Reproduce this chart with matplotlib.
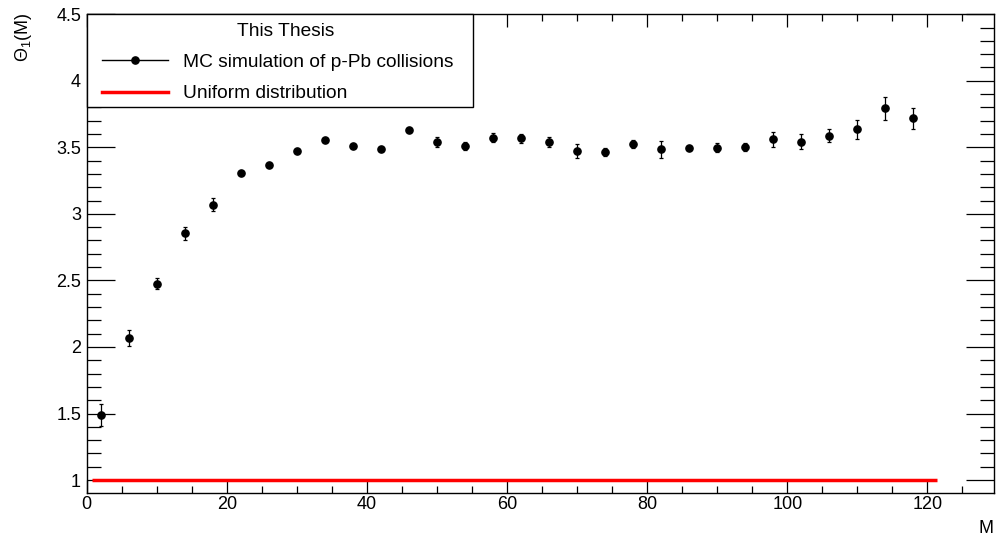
import matplotlib
matplotlib.use('Agg')
import matplotlib.pyplot as plt
from matplotlib.lines import Line2D
from matplotlib.patches import Rectangle
from matplotlib.ticker import MultipleLocator, FuncFormatter

# data
multiplicity = [2, 6, 10, 14, 18, 22, 26, 30, 34, 38, 42, 46, 50, 54, 58,
                62, 66, 70, 74, 78, 82, 86, 90, 94, 98, 102, 106, 110, 114, 118]
theta1 = [1.49, 2.065, 2.475, 2.855, 3.07, 3.31, 3.365, 3.472, 3.552, 3.51,
          3.49, 3.632, 3.54, 3.512, 3.573, 3.567, 3.54, 3.472, 3.465, 3.525,
          3.485, 3.495, 3.498, 3.503, 3.56, 3.543, 3.588, 3.635, 3.792, 3.718]
theta1_err = [0.083, 0.059, 0.041, 0.05, 0.046, 0.01, 0.01, 0.01, 0.01, 0.01,
              0.01, 0.01, 0.035, 0.03, 0.036, 0.036, 0.035, 0.055, 0.03, 0.03,
              0.066, 0.01, 0.035, 0.03, 0.055, 0.056, 0.05, 0.07, 0.085, 0.077]
uniform_m = [0.7, 121.3]
uniform_theta = [1.0, 1.0]

plt.rcParams['font.family'] = ['Liberation Sans', 'DejaVu Sans']
plt.rcParams['mathtext.fontset'] = 'custom'
plt.rcParams['mathtext.rm'] = 'Liberation Sans'
plt.rcParams['mathtext.it'] = 'Liberation Sans:italic'

fig = plt.figure(figsize=(10, 5.37), dpi=100)
ax = fig.add_axes([0.0867, 0.0825, 0.9073, 0.891])

ax.plot(uniform_m, uniform_theta, color='#ff0000', lw=2.5, solid_capstyle='butt', zorder=2)
ax.errorbar(multiplicity, theta1, yerr=theta1_err, fmt='o', color='black',
            markersize=5.2, elinewidth=0.9, capsize=1.6, capthick=0.9, zorder=3)

ax.set_xlim(0, 129.5)
ax.set_ylim(0.905, 4.5)

ax.xaxis.set_major_locator(MultipleLocator(20))
ax.xaxis.set_minor_locator(MultipleLocator(5))
ax.yaxis.set_major_locator(MultipleLocator(0.5))
ax.yaxis.set_minor_locator(MultipleLocator(0.1))
ax.yaxis.set_major_formatter(FuncFormatter(lambda v, p: '%g' % v))

ax.tick_params(axis='both', which='both', direction='in', top=True, right=True,
               labelsize=13, width=0.9, color='black')
ax.tick_params(axis='x', which='major', length=9.6, pad=2.6)
ax.tick_params(axis='x', which='minor', length=4.8)
ax.tick_params(axis='y', which='major', length=19.9, pad=4.1)
ax.tick_params(axis='y', which='minor', length=10)
for s in ax.spines.values():
    s.set_linewidth(1.0)

ax.set_xlabel('M', fontsize=13, loc='right')
ax.xaxis.set_label_coords(1.0, -0.058)
ax.set_ylabel(r'$\Theta_{1}$(M)', fontsize=13, loc='top')
ax.yaxis.set_label_coords(-0.058, 1.003)

# legend box drawn separately, legend content placed inside it
ax.add_patch(Rectangle((0, 0.8056), 0.4258, 0.1944, transform=ax.transAxes,
                       facecolor='white', edgecolor='black', lw=1.0,
                       zorder=4, clip_on=False))
handles = [Line2D([], [], color='black', lw=1, marker='o', markersize=5.2),
           Line2D([], [], color='#ff0000', lw=2.5)]
labels = ['MC simulation of p-Pb collisions', 'Uniform distribution']
leg = ax.legend(handles, labels, title='This Thesis', loc='upper left',
                bbox_to_anchor=(0.0169, 0.982), borderaxespad=0, borderpad=0,
                fontsize=13.8, title_fontsize=13.8, frameon=False,
                handlelength=3.45, handletextpad=0.78, labelspacing=0.72)
leg.set_zorder(5)
# title in the reference sits a little right of the content centre
leg.get_title().set_position((8, 0))

fig.savefig('out.png', dpi=100)
